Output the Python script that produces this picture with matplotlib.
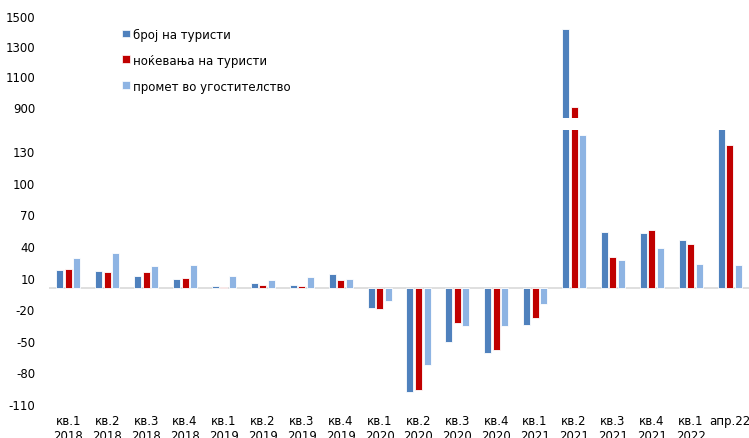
import matplotlib
matplotlib.use('Agg')
import matplotlib.pyplot as plt
from matplotlib.patches import Patch
import numpy as np

plt.rcParams['font.family'] = ['DejaVu Sans']
plt.rcParams['axes.unicode_minus'] = False

# quarterly changes, %
categories = ['кв.1\n2018', 'кв.2\n2018', 'кв.3\n2018', 'кв.4\n2018',
              'кв.1\n2019', 'кв.2\n2019', 'кв.3\n2019', 'кв.4\n2019',
              'кв.1\n2020', 'кв.2\n2020', 'кв.3\n2020', 'кв.4\n2020',
              'кв.1\n2021', 'кв.2\n2021', 'кв.3\n2021', 'кв.4\n2021',
              'кв.1\n2022', 'апр.22']
tourists = [17.1, 16.2, 11.4, 8.9, 2.2, 4.8, 2.9, 13.3,
            -18.7, -98.4, -50.8, -61.6, -35.0, 1412, 53.3, 52.4, 46.0, 160]
nights = [18.1, 15.2, 14.9, 9.5, 1.0, 3.2, 1.9, 7.6,
          -20.3, -96.8, -33.6, -59.0, -28.3, 900, 29.5, 55.2, 41.6, 135.5]
catering = [28.9, 33.3, 21.0, 21.6, 11.4, 7.3, 10.5, 8.9,
            -12.4, -73.0, -36.2, -35.9, -15.5, 145.4, 26.4, 38.1, 22.5, 22.2]

names = ['број на туристи', 'ноќевања на туристи', 'промет во угостителство']
colors = ['#4F81BD', '#C00000', '#8EB4E3']
series = [tourists, nights, catering]

W, H = 749, 439
fig = plt.figure(figsize=(W / 100, H / 100), dpi=100)

# broken axis: lower part -110..150, upper part 825..1500
ax = fig.add_axes([49 / W, (H - 405) / H, 700 / W, (405 - 131) / H])
ax_top = fig.add_axes([49 / W, (H - 119) / H, 700 / W, (119 - 16.7) / H])

x = np.arange(len(categories))
width = 0.18
offsets = [-0.22, 0, 0.22]

for a in (ax, ax_top):
    for vals, col, off in zip(series, colors, offsets):
        a.bar(x + off, vals, width, color=col, edgecolor='white', linewidth=0.6)
    a.set_xlim(-0.5, len(categories) - 0.5)
    for s in a.spines.values():
        s.set_visible(False)
    a.tick_params(length=0, labelsize=8.5, colors='#000000')
    a.patch.set_alpha(0)

ax.set_ylim(-110, 150)
ax.set_yticks(np.arange(-110, 131, 30))
ax.axhline(0, color='#D9D9D9', linewidth=1.2, zorder=0)
ax.set_xticks(x)
ax.set_xticklabels(categories)
ax.tick_params(axis='y', pad=10)
ax.tick_params(axis='x', pad=7)

ax_top.set_ylim(825, 1500)
ax_top.set_yticks([900, 1100, 1300, 1500])
ax_top.set_xticks([])
ax_top.tick_params(axis='y', pad=10)

handles = [Patch(facecolor=c, edgecolor='white', linewidth=0.5) for c in colors]
fig.legend(handles, names, loc='upper left',
           bbox_to_anchor=(122 / W, 1 - 28.5 / H), frameon=False,
           fontsize=8.5, handlelength=0.65, handleheight=0.65,
           handletextpad=0.3, labelspacing=1.1, borderpad=0, borderaxespad=0)

fig.savefig('out.png', dpi=100)
